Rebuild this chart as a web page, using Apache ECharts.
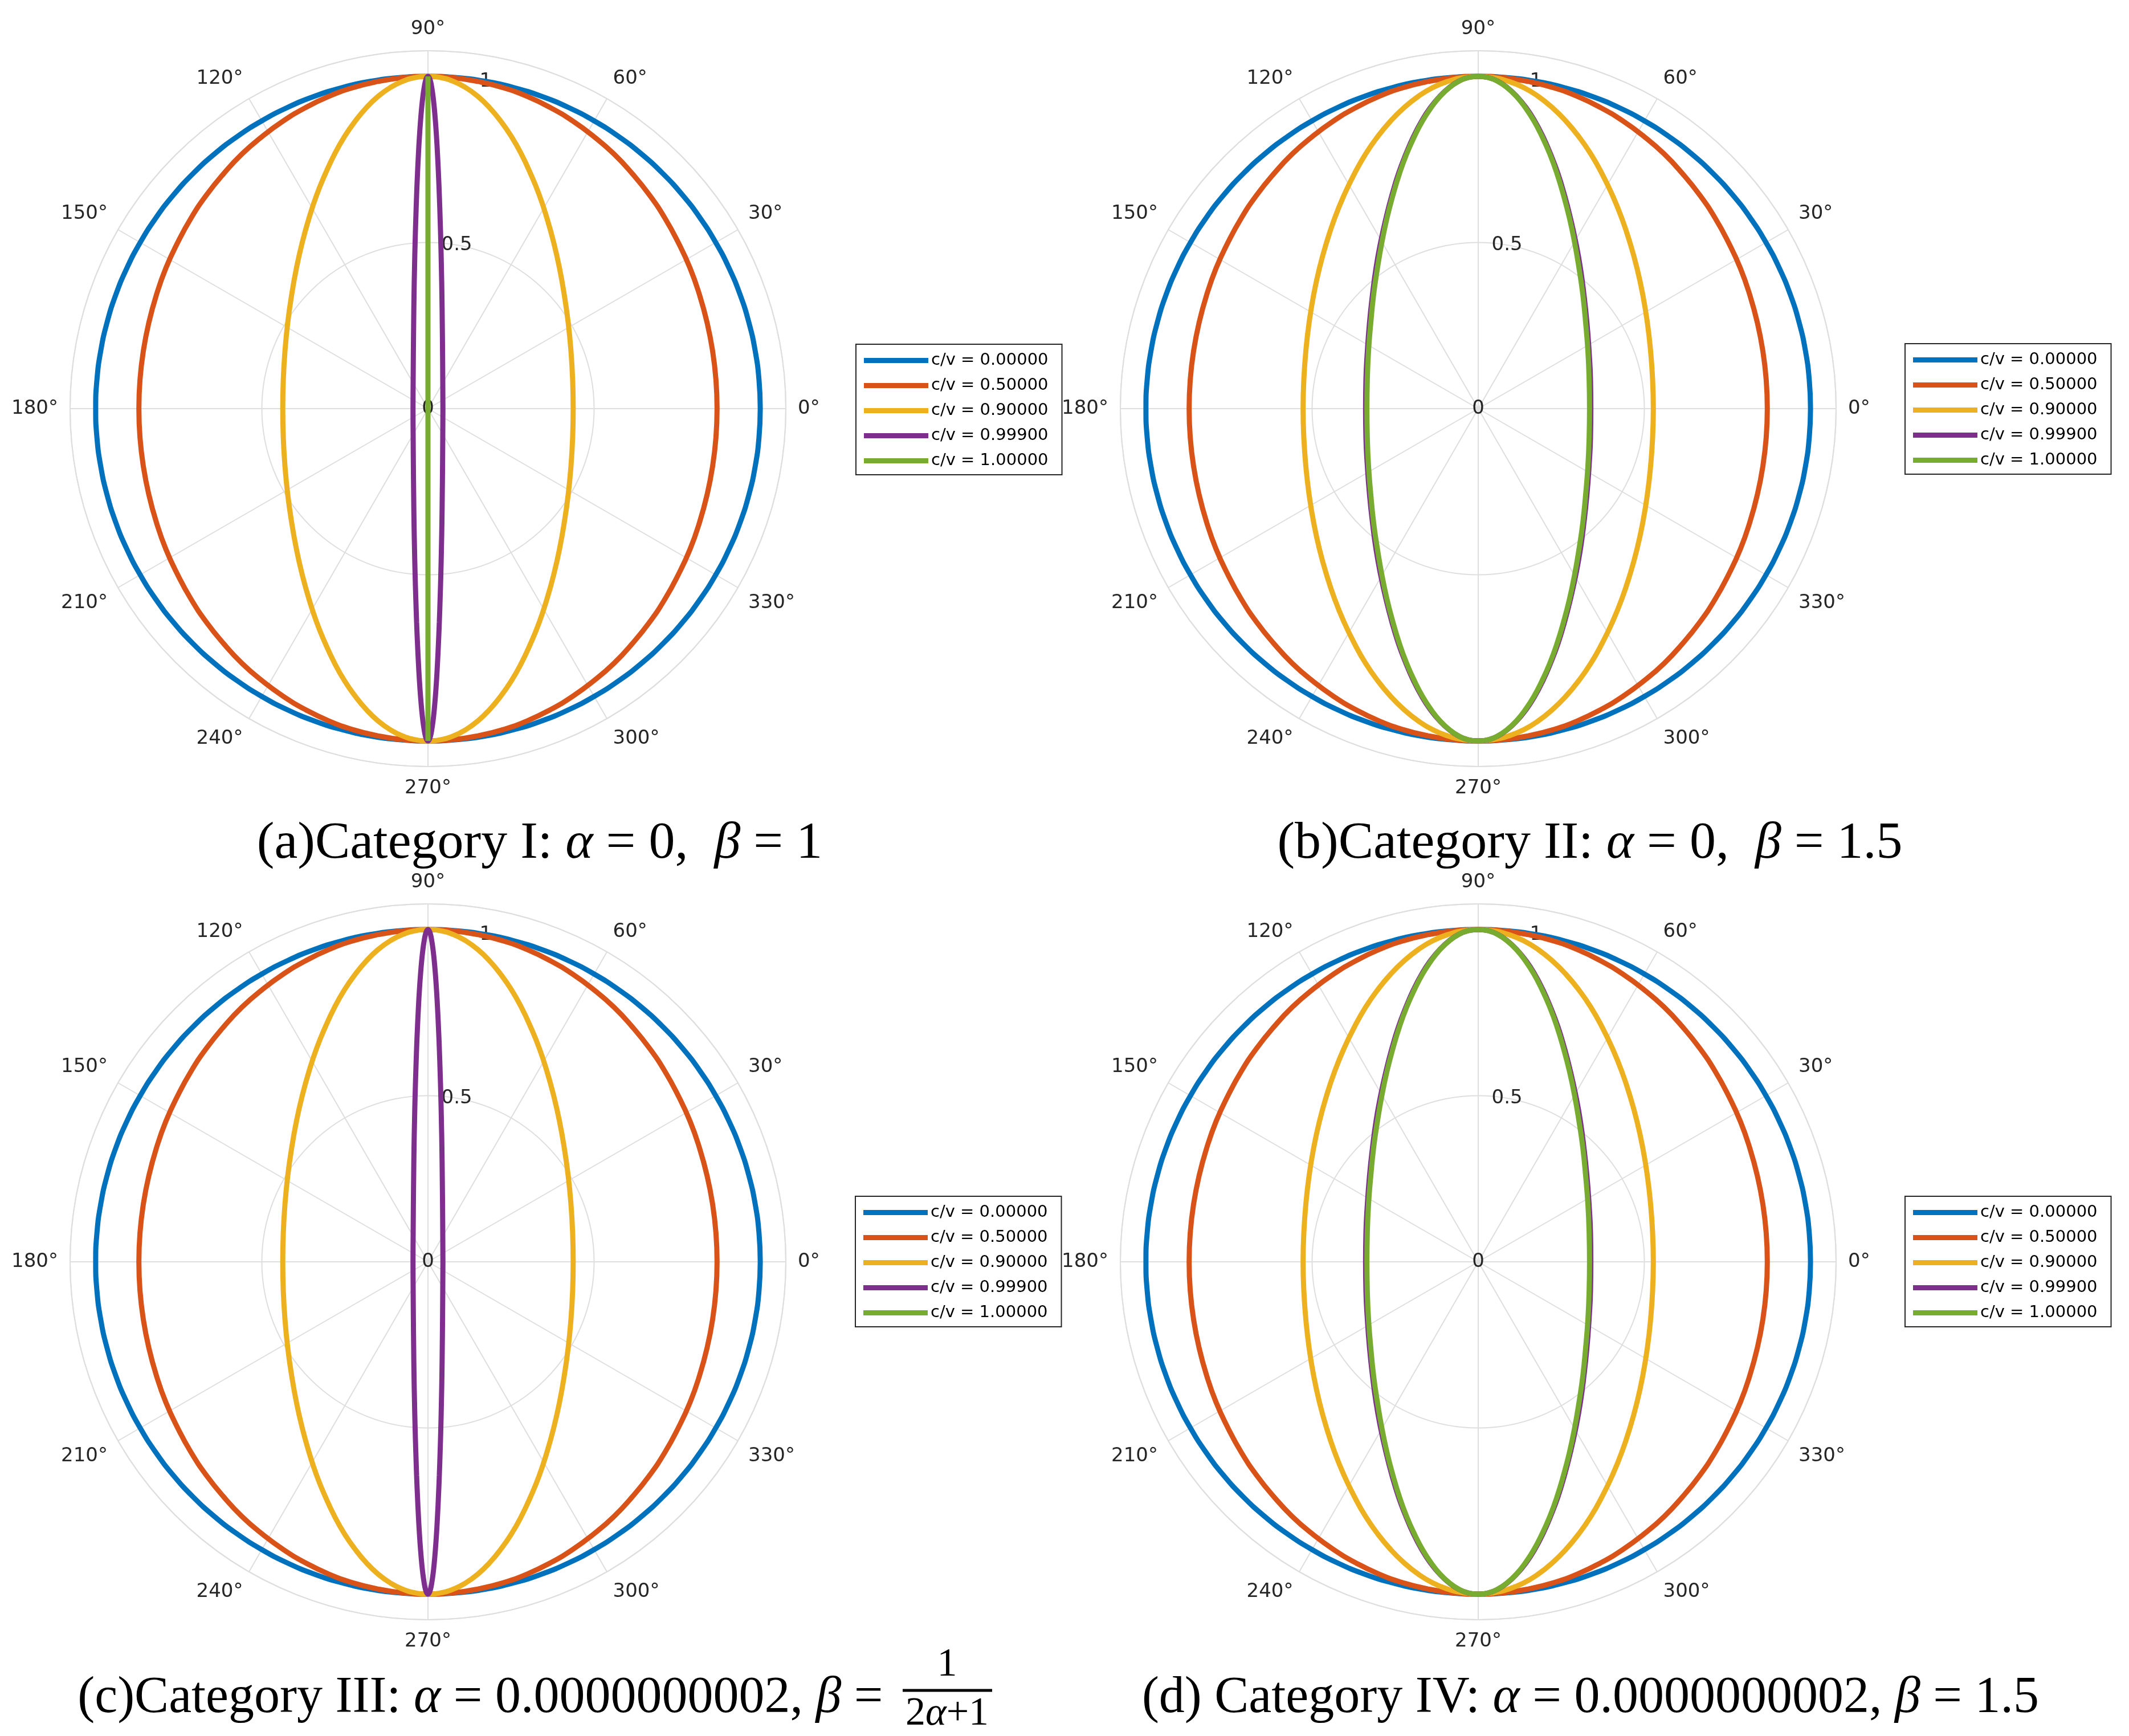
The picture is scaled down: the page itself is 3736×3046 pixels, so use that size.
<!DOCTYPE html>
<html>
<head>
<meta charset="utf-8">
<script src="https://cdn.jsdelivr.net/npm/echarts@6/dist/echarts.min.js"></script>
<style>
  html, body { margin: 0; padding: 0; background: #fff; }
  #main { width: 3736px; height: 3046px; }
</style>
</head>
<body>
<div id="main"></div>
<script>
// legend labels and line colours
const names = ['c/v = 0.00000', 'c/v = 0.50000', 'c/v = 0.90000', 'c/v = 0.99900', 'c/v = 1.00000']
const colors = ['#0072BD', '#D95319', '#EDB120', '#7E2F8E', '#77AC30']
const radiusTicks = [0, 0.5, 1]

// first quadrant of every curve: polar angle (deg) and radius
const circleAng = [0, 5, 10, 15, 20, 25, 30, 35, 40, 45, 50, 55, 60, 65, 70, 75, 80, 85, 90]
const circleR = [1, 1, 1, 1, 1, 1, 1, 1, 1, 1, 1, 1, 1, 1, 1, 1, 1, 1, 1]
const orangeAng = [0, 5.74, 11.46, 17.12, 22.70, 28.19, 33.57, 38.83, 43.96, 48.98, 53.87, 58.65, 63.33, 67.92, 72.43, 76.88, 81.28, 85.65, 90]
const orangeR = [0.870, 0.871, 0.874, 0.879, 0.886, 0.895, 0.904, 0.915, 0.926, 0.937, 0.949, 0.959, 0.969, 0.978, 0.986, 0.992, 0.996, 0.999, 1]
// categories I / III
const yellowAngI = [0, 11.32, 21.97, 31.51, 39.79, 46.86, 52.88, 58.03, 62.49, 66.45, 69.86, 72.99, 75.84, 78.48, 80.96, 83.32, 85.59, 87.81, 90]
const yellowRI = [0.437, 0.444, 0.464, 0.495, 0.534, 0.579, 0.627, 0.676, 0.725, 0.772, 0.816, 0.857, 0.893, 0.925, 0.952, 0.973, 0.988, 0.997, 1]
const purpleAngI = [0, 62.99, 75.81, 80.55, 83.01, 84.54, 85.58, 86.36, 86.96, 87.45, 87.86, 88.21, 88.52, 88.81, 89.07, 89.32, 89.55, 89.78, 90]
const purpleRI = [0.045, 0.098, 0.179, 0.262, 0.345, 0.425, 0.502, 0.575, 0.644, 0.708, 0.767, 0.820, 0.866, 0.907, 0.940, 0.966, 0.985, 0.996, 1]
const greenAngI = [0, 90]
const greenRI = [0, 1]
// categories II / IV
const yellowAngII = [0, 9.43, 18.50, 26.95, 34.63, 41.50, 47.61, 53.03, 57.87, 62.21, 66.15, 69.74, 73.08, 76.19, 79.14, 81.96, 84.69, 87.36, 90]
const yellowRII = [0.527, 0.532, 0.547, 0.571, 0.602, 0.638, 0.677, 0.718, 0.759, 0.799, 0.838, 0.873, 0.905, 0.933, 0.957, 0.976, 0.989, 0.997, 1]
const purpleAngII = [0, 14.47, 27.48, 38.32, 47.03, 53.98, 59.58, 64.17, 68.00, 71.27, 74.12, 76.65, 78.93, 81.02, 82.97, 84.81, 86.58, 88.30, 90]
const purpleRII = [0.339, 0.349, 0.376, 0.417, 0.467, 0.523, 0.580, 0.637, 0.693, 0.747, 0.796, 0.842, 0.883, 0.918, 0.947, 0.970, 0.987, 0.997, 1]
const greenAngII = [0, 14.64, 27.76, 38.66, 47.37, 54.31, 59.88, 64.43, 68.24, 71.48, 74.30, 76.80, 79.05, 81.12, 83.05, 84.87, 86.62, 88.32, 90]
const greenRII = [0.335, 0.345, 0.373, 0.414, 0.465, 0.520, 0.578, 0.636, 0.692, 0.746, 0.796, 0.841, 0.882, 0.917, 0.947, 0.970, 0.987, 0.997, 1]

// layout
const centers = [[751, 717], [2594, 717], [751, 2214], [2594, 2214]]
const legendPos = [[1502, 604], [3343, 603], [1501, 2099], [3343, 2099]]
const outerPx = 628
const rMax = 1.077
const gridColor = '#dedede'
const tickFont = 'DejaVu Sans'

const panels = [
  [[circleAng, circleR], [orangeAng, orangeR], [yellowAngI, yellowRI], [purpleAngI, purpleRI], [greenAngI, greenRI]],
  [[circleAng, circleR], [orangeAng, orangeR], [yellowAngII, yellowRII], [purpleAngII, purpleRII], [greenAngII, greenRII]],
  [[circleAng, circleR], [orangeAng, orangeR], [yellowAngI, yellowRI], [purpleAngI, purpleRI], null],
  [[circleAng, circleR], [orangeAng, orangeR], [yellowAngII, yellowRII], [purpleAngII, purpleRII], [greenAngII, greenRII]]
]

// closed loop from a first-quadrant sample (curves are symmetric about both axes)
function loop(ang, r) {
  const pts = []
  for (let i = 0; i < ang.length; i++) pts.push([r[i], ang[i]])
  for (let i = ang.length - 2; i >= 0; i--) pts.push([r[i], 180 - ang[i]])
  for (let i = 1; i < ang.length; i++) pts.push([r[i], 180 + ang[i]])
  for (let i = ang.length - 2; i >= 0; i--) pts.push([r[i], 360 - ang[i]])
  return pts
}

const polar = []
const angleAxis = []
const radiusAxis = []
centers.forEach((c, i) => {
  polar.push({ center: c, radius: outerPx })
  angleAxis.push({
    polarIndex: i,
    type: 'value',
    min: 0,
    max: 360,
    interval: 30,
    startAngle: 0,
    clockwise: false,
    axisLine: { show: true, lineStyle: { color: gridColor, width: 2 } },
    axisTick: { show: false },
    splitLine: { show: true, lineStyle: { color: gridColor, width: 2 } },
    axisLabel: {
      margin: 21,
      color: '#262626',
      fontFamily: tickFont,
      fontSize: 34,
      formatter: v => (v === 360 ? '' : v + '°')
    }
  })
  radiusAxis.push({
    polarIndex: i,
    type: 'value',
    min: 0,
    max: rMax,
    interval: 0.5,
    axisLine: { show: false },
    axisTick: { show: false },
    axisLabel: { show: false },
    splitLine: { show: true, lineStyle: { color: gridColor, width: 2 } }
  })
})
// second set of polars only for the r tick labels, laid along the 80 deg ray
centers.forEach((c, i) => {
  polar.push({ center: c, radius: outerPx })
  angleAxis.push({
    polarIndex: 4 + i,
    type: 'value',
    min: 0,
    max: 360,
    startAngle: 80,
    clockwise: false,
    show: false
  })
  radiusAxis.push({
    polarIndex: 4 + i,
    type: 'value',
    min: 0,
    max: rMax,
    interval: 0.5,
    axisLine: { show: false },
    axisTick: { show: false },
    splitLine: { show: false },
    axisLabel: {
      margin: 0,
      align: 'center',
      verticalAlign: 'middle',
      color: '#262626',
      fontFamily: tickFont,
      fontSize: 34,
      formatter: v => (radiusTicks.indexOf(v) >= 0 ? String(v) : '')
    }
  })
})

const series = []
panels.forEach((curves, p) => {
  curves.forEach((cv, k) => {
    if (!cv) return
    series.push({
      type: 'line',
      name: names[k],
      coordinateSystem: 'polar',
      polarIndex: p,
      data: loop(cv[0], cv[1]),
      symbol: 'none',
      smooth: !(p === 0 && k === 4),
      silent: true,
      lineStyle: { color: colors[k], width: 9 },
      itemStyle: { color: colors[k] },
      z: 3
    })
  })
})

const legend = legendPos.map(pos => ({
  left: pos[0],
  top: pos[1],
  orient: 'vertical',
  data: names,
  icon: 'rect',
  itemWidth: 113,
  itemHeight: 9,
  itemGap: 15,
  padding: [14, 24, 10, 14],
  borderColor: '#262626',
  borderWidth: 2,
  backgroundColor: '#fff',
  selectedMode: false,
  textStyle: { fontFamily: tickFont, fontSize: 29, color: '#000', lineHeight: 29 }
}))

function caption(text, x, y, align, size) {
  return {
    type: 'text',
    x: x,
    y: y,
    style: {
      text: text,
      font: size + 'px "Liberation Serif"',
      fill: '#000',
      align: align,
      verticalAlign: 'middle',
      textAlign: align,
      textVerticalAlign: 'middle',
      rich: { i: { fontFamily: 'Liberation Serif', fontSize: size, fontStyle: 'italic', fill: '#000' } }
    }
  }
}

const graphic = [
  caption('(a)Category I: {i|α} = 0,  {i|β} = 1', 947, 1481, 'center', 92),
  caption('(b)Category II: {i|α} = 0,  {i|β} = 1.5', 2790, 1481, 'center', 92),
  caption('(c)Category III: {i|α} = 0.0000000002, {i|β} = ', 1572, 2980, 'right', 90),
  caption('(d) Category IV: {i|α} = 0.0000000002, {i|β} = 1.5', 2791, 2980, 'center', 90),
  caption('1', 1662, 2922, 'center', 70),
  {
    type: 'line',
    shape: { x1: 1584, y1: 2966, x2: 1741, y2: 2966 },
    style: { stroke: '#000', lineWidth: 5 }
  },
  caption('2{i|α}+1', 1662, 3008, 'center', 70)
]

const chart = echarts.init(document.getElementById('main'))
chart.setOption({
  backgroundColor: '#fff',
  animation: false,
  polar: polar,
  angleAxis: angleAxis,
  radiusAxis: radiusAxis,
  legend: legend,
  series: series,
  graphic: graphic
})
</script>
</body>
</html>
